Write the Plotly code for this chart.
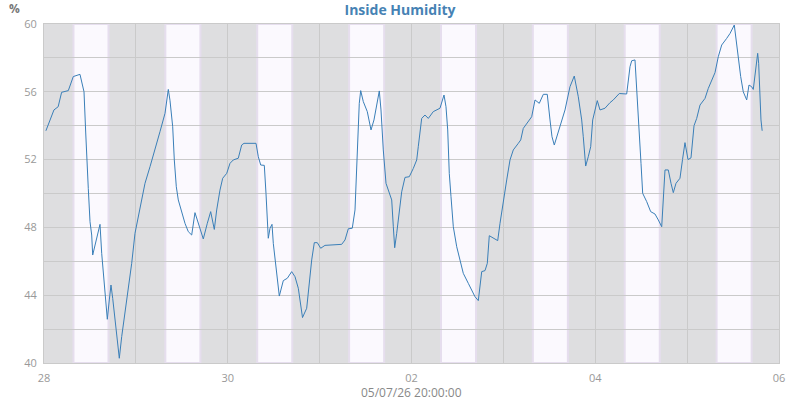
import pandas as pd
import plotly.graph_objects as go

# hours since 2026-06-28 00:00
hours = [0.5, 1.6, 2.6, 3.7, 4.6, 6.35, 7.65, 9.4, 10.45, 10.9, 11.15, 11.57, 12.02, 12.46, 12.72,
         13.06, 13.77, 14.63, 15.07, 15.49, 15.93, 16.54, 17.06, 17.5, 17.95, 18.55, 19.15, 19.67,
         20.3, 21.16, 22.02, 22.91, 23.77, 25.08, 26.38, 27.69, 29.0, 30.3, 31.61, 32.47, 32.91,
         33.62, 34.04, 34.56, 35.08, 35.97, 36.83, 37.69, 38.58, 39.44, 40.31, 41.61, 42.66, 43.54,
         44.49, 45.11, 45.97, 46.68, 47.73, 48.59, 49.45, 50.75, 51.64, 52.24, 55.38, 55.98, 56.61,
         57.55, 57.99, 58.33, 58.59, 59.04, 59.56, 59.9, 60.6, 61.05, 61.47, 62.51, 63.56, 64.7,
         65.57, 66.43, 66.87, 67.53, 68.62, 69.3, 69.93, 70.61, 71.39, 72.28, 73.4, 77.76, 78.63,
         79.49, 80.53, 81.24, 81.84, 82.36, 82.73, 83.41, 84.45, 85.42, 86.2, 87.07, 87.59, 88.03,
         88.63, 89.34, 90.2, 90.83, 91.25, 91.61, 92.13, 92.66, 93.44, 94.3, 95.42, 96.47, 97.36,
         97.77, 98.66, 99.52, 100.39, 101.69, 103.0, 103.44, 104.49, 105.01, 105.46, 105.87,
         106.32, 106.92, 107.81, 108.67, 109.53, 110.84, 111.72, 112.59, 113.45, 114.34, 115.2,
         115.8, 116.32, 117.37, 118.52, 119.12, 119.98, 120.87, 121.73, 122.59, 123.9, 124.53,
         125.2, 126.25, 127.4, 128.26, 129.38, 130.43, 131.47, 132.18, 132.7, 133.3, 134.35,
         135.65, 136.1, 137.4, 138.52, 139.57, 140.46, 140.87, 141.5, 142.18, 142.81, 143.33,
         143.93, 144.53, 145.24, 146.54, 147.85, 148.71, 150.28, 152.21, 153.08, 153.52, 154.38,
         154.83, 155.5, 155.95, 156.39, 157.44, 158.48, 159.6, 160.47, 161.36, 162.22, 163.08,
         163.79, 164.39, 165.09, 166.13, 166.8, 167.44, 168.23, 169.01, 169.8, 170.5, 171.37,
         172.67, 173.53, 174.42, 175.28, 176.14, 177.03, 178.33, 179.2, 180.32, 180.76, 181.36,
         181.99, 182.67, 183.56, 184.16, 184.86, 185.28, 185.72, 186.17, 186.43, 186.69, 187.03,
         187.29, 187.6]

humidity = [53.7, 54.34, 54.93, 55.12, 55.97, 56.07, 56.9, 57.03, 56.0, 53.57, 51.98, 50.3, 48.34,
            47.55, 46.37, 46.67, 47.26, 48.18, 46.47, 45.29, 43.91, 42.58, 43.72, 44.6, 43.81,
            42.54, 41.46, 40.28, 41.56, 42.93, 44.31, 45.88, 47.65, 49.22, 50.6, 51.58, 52.57,
            53.65, 54.73, 56.14, 55.5, 53.94, 51.98, 50.4, 49.62, 48.83, 48.24, 47.75, 47.55,
            48.87, 48.24, 47.32, 48.24, 48.93, 47.88, 49.03, 50.2, 50.9, 51.19, 51.78, 51.98,
            52.08, 52.86, 52.96, 52.96, 52.17, 51.68, 51.66, 50.01, 48.83, 47.36, 47.95, 48.18,
            47.06, 45.59, 44.9, 43.95, 44.86, 45.0, 45.39, 45.09, 44.41, 43.72, 42.68, 43.23,
            44.7, 46.08, 47.1, 47.1, 46.77, 46.94, 47.0, 47.26, 47.92, 47.95, 49.03, 51.98,
            55.32, 56.07, 55.42, 54.83, 53.75, 54.34, 55.42, 56.05, 54.93, 52.57, 50.6, 50.07,
            49.62, 48.04, 46.8, 47.65, 48.63, 50.1, 50.95, 50.99, 51.48, 51.98, 52.76, 54.43,
            54.63, 54.43, 54.83, 54.97, 55.03, 55.81, 55.12, 53.75, 51.19, 49.81, 48.04, 46.86,
            45.98, 45.29, 44.7, 44.31, 43.91, 43.68, 45.39, 45.45, 45.88, 47.51, 47.36, 47.22,
            48.24, 49.62, 50.8, 51.98, 52.57, 52.96, 53.16, 53.84, 54.14, 54.53, 55.52, 55.32,
            55.85, 55.85, 54.34, 53.35, 52.86, 53.65, 54.63, 54.93, 56.3, 56.93, 55.71, 54.34,
            53.35, 51.62, 52.17, 52.76, 54.34, 54.93, 55.48, 54.93, 55.03, 55.36, 55.52, 55.9,
            55.87, 57.48, 57.83, 57.88, 56.3, 53.94, 51.78, 50.01, 49.52, 48.93, 48.79, 48.44,
            48.04, 51.39, 51.39, 50.6, 50.05, 50.6, 50.9, 52.0, 53.0, 52.0, 52.1, 54.0, 54.43,
            55.22, 55.61, 56.2, 56.7, 57.13, 58.07, 58.76, 59.15, 59.44, 59.94, 59.15, 57.97,
            56.9, 56.0, 55.52, 56.4, 56.3, 56.14, 56.9, 57.97, 58.27, 57.68, 55.52, 54.34, 53.7]

start = pd.Timestamp("2026-06-28 00:00")
x_end = pd.Timestamp("2026-07-06 00:00")
days = pd.date_range("2026-06-28", "2026-07-05", freq="D")
light_start_h = 7.7
light_end_h = 16.85

title_text = "Inside Humidity"
y_unit = "%"
x_title = "05/07/26 20:00:00"

times = [start + pd.Timedelta(hours=h) for h in hours]

fig = go.Figure()
fig.add_trace(go.Scatter(x=times, y=humidity, mode="lines",
                         line=dict(color="#3a7fb8", width=1), hoverinfo="skip",
                         showlegend=False))

for d in days:
    fig.add_shape(type="rect", xref="x", yref="paper",
                  x0=d + pd.Timedelta(hours=light_start_h),
                  x1=d + pd.Timedelta(hours=light_end_h),
                  y0=0, y1=1, fillcolor="#fbf9fe",
                  line=dict(color="#e6deee", width=2), layer="below")

grid = "#cacaca"
plot_w, plot_h = 735, 339
fig.update_layout(
    width=800, height=400,
    margin=dict(l=44, r=21, t=24, b=37, autoexpand=False),
    paper_bgcolor="white", plot_bgcolor="#dedee0",
    font=dict(family="Open Sans", size=11, color="#999999"),
    title=dict(text="<b>" + title_text + "</b>", x=0.5, xanchor="center",
               y=1 - 10 / 400, yanchor="middle",
               font=dict(family="Open Sans", size=14, color="#4682b4")),
    xaxis=dict(range=[start, x_end], dtick=2 * 86400000, tick0=start,
               tickformat="%d", showgrid=True, gridcolor=grid, gridwidth=1,
               minor=dict(dtick=86400000, showgrid=True, gridcolor=grid, gridwidth=1),
               showline=True, linecolor=grid, mirror=True, zeroline=False,
               ticks="", ticklabelstandoff=5, automargin=False,
               tickfont=dict(size=11, color="#999999")),
    yaxis=dict(range=[40, 60], dtick=4, tick0=40, showgrid=True, gridcolor=grid,
               gridwidth=1, minor=dict(dtick=2, showgrid=True, gridcolor=grid, gridwidth=1),
               showline=True, linecolor=grid, mirror=True, zeroline=False,
               ticks="", ticklabelstandoff=4, automargin=False,
               tickfont=dict(size=11, color="#999999")),
    annotations=[
        dict(text="<b>" + y_unit + "</b>", xref="paper", yref="paper",
             x=(14 - 44) / plot_w, y=1 + 15 / plot_h, xanchor="center",
             yanchor="middle", showarrow=False,
             font=dict(family="Open Sans", size=12, color="#777777")),
        dict(text=x_title, xref="paper", yref="paper",
             x=0.5, y=(363 - 392) / plot_h, xanchor="center",
             yanchor="middle", showarrow=False,
             font=dict(family="Open Sans", size=12, color="#888888")),
    ],
)

fig.write_html("out.html")
